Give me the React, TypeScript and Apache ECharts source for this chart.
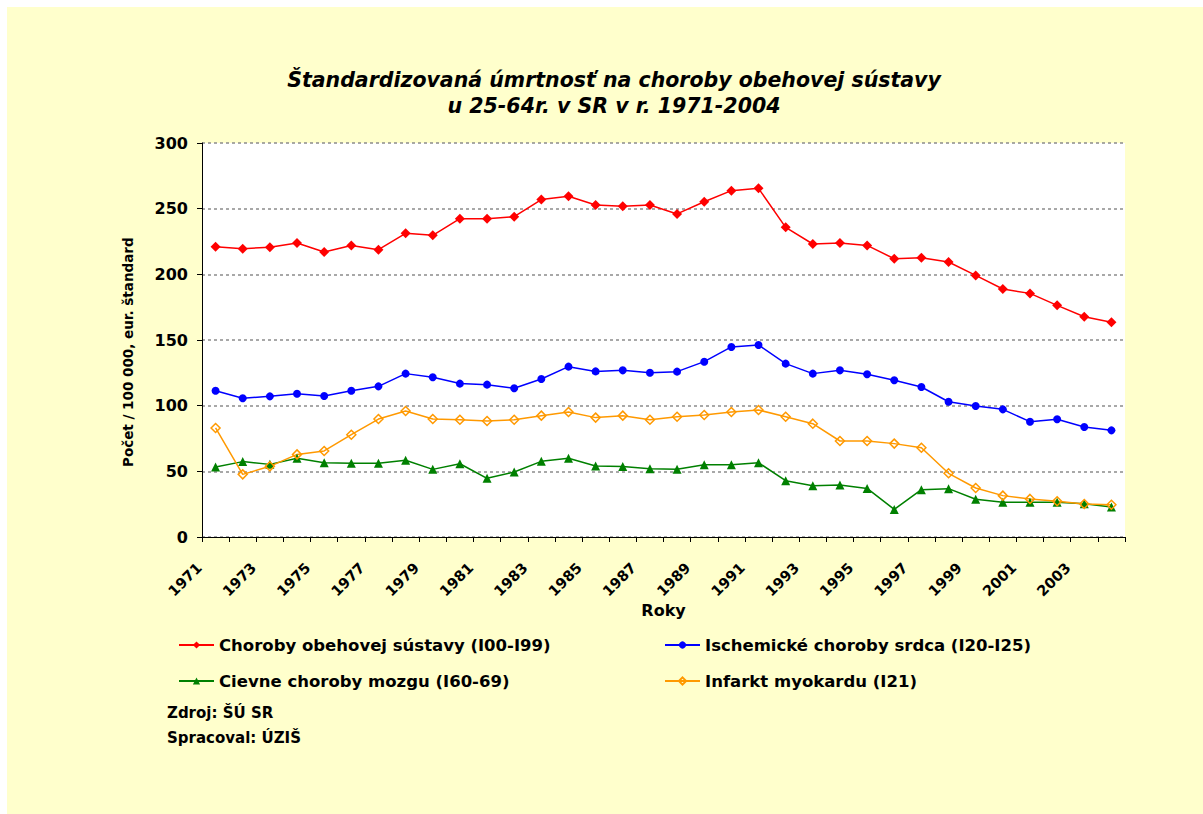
import React, { useEffect, useRef } from "react";
import * as echarts from "echarts";

const years = [
  "1971", "1972", "1973", "1974", "1975", "1976", "1977", "1978", "1979", "1980",
  "1981", "1982", "1983", "1984", "1985", "1986", "1987", "1988", "1989", "1990",
  "1991", "1992", "1993", "1994", "1995", "1996", "1997", "1998", "1999", "2000",
  "2001", "2002", "2003", "2004",
];

const obehova = [
  221, 219.5, 220.6, 223.9, 217, 222, 218.8, 231.2, 229.7, 242.4, 242.4, 243.9,
  256.9, 259.4, 252.8, 251.8, 252.8, 246, 255.3, 263.7, 265.5, 235.8, 223.1,
  223.9, 222, 211.9, 212.7, 209.4, 199.2, 188.8, 185.5, 176.4, 167.7, 163.5,
];

const ischemicke = [
  111.4, 105.6, 107.1, 109.1, 107.4, 111.4, 114.7, 124.4, 121.6, 116.8, 116,
  113.2, 120.3, 129.7, 126.1, 126.9, 125.1, 125.9, 133.5, 144.7, 146.2, 132,
  124.4, 126.9, 123.9, 119.3, 114.2, 103, 99.7, 97.2, 87.8, 89.6, 83.8, 81.2,
];

const cievne = [
  53.3, 57.4, 55.3, 59.9, 56.6, 56.1, 56.1, 58.4, 51.5, 55.8, 44.7, 49.5, 57.6,
  59.9, 54.1, 53.6, 52, 51.5, 55, 55, 56.6, 42.9, 39.1, 39.6, 37, 21, 36, 36.8,
  28.7, 26.4, 26.4, 26.4, 25.4, 22.8,
];

const infarkt = [
  83, 47.7, 53.8, 62.9, 65.5, 77.9, 89.8, 95.9, 89.8, 89.3, 88.3, 89.3, 92.4,
  95.2, 90.9, 92.4, 89.3, 91.6, 92.9, 95.2, 96.7, 91.6, 86.3, 73.1, 73.1, 71.1,
  68, 48.5, 37.3, 31.5, 29, 27.2, 25.1, 24.6,
];

const seriesNames = [
  "Choroby obehovej sústavy (I00-I99)",
  "Ischemické choroby srdca (I20-I25)",
  "Cievne choroby mozgu (I60-69)",
  "Infarkt myokardu (I21)",
];

const titleText = "Štandardizovaná úmrtnosť na choroby obehovej sústavy\nu 25-64r. v SR v r. 1971-2004";
const yAxisName = "Počet / 100 000, eur. štandard";
const xAxisName = "Roky";
const sourceLines = ["Zdroj: ŠÚ SR", "Spracoval: ÚZIŠ"];

const FONT = "'DejaVu Sans', sans-serif";

export default function App() {
  const ref = useRef<HTMLDivElement>(null);

  useEffect(() => {
    if (!ref.current) return;
    const chart = echarts.init(ref.current, undefined, { renderer: "svg" });
    const legendText = {
      fontFamily: FONT,
      fontSize: 16.5,
      fontWeight: "bold" as const,
      color: "#000",
      lineHeight: 18,
    };
    chart.setOption({
      animation: false,
      backgroundColor: "#FFFFCC",
      title: {
        text: titleText,
        left: 607,
        top: 60,
        textAlign: "center",
        padding: 0,
        textStyle: {
          fontFamily: FONT,
          fontSize: 20.5,
          fontWeight: "bold",
          fontStyle: "italic",
          color: "#000",
          lineHeight: 26,
        },
      },
      grid: {
        left: 195,
        right: 78,
        top: 136,
        bottom: 277,
        show: true,
        backgroundColor: "#FFFFFF",
        borderWidth: 0,
      },
      legend: [
        {
          data: [seriesNames[0], seriesNames[2]],
          orient: "vertical",
          left: 171,
          top: 629,
          padding: 0,
          itemGap: 18,
          itemWidth: 35,
          itemHeight: 9,
          textStyle: legendText,
        },
        {
          data: [seriesNames[1], seriesNames[3]],
          orient: "vertical",
          left: 657,
          top: 629,
          padding: 0,
          itemGap: 18,
          itemWidth: 35,
          itemHeight: 9,
          textStyle: legendText,
        },
      ],
      xAxis: {
        type: "category",
        data: years,
        boundaryGap: true,
        name: xAxisName,
        nameLocation: "middle",
        nameGap: 58,
        nameTextStyle: {
          fontFamily: FONT,
          fontSize: 16,
          fontWeight: "bold",
          color: "#000",
        },
        axisLine: { show: true, lineStyle: { color: "#000", width: 1 } },
        axisTick: { show: true, interval: 0, length: 5, lineStyle: { color: "#000" } },
        axisLabel: {
          interval: 1,
          rotate: 45,
          margin: 12,
          padding: [0, 23, 0, 0],
          fontFamily: FONT,
          fontSize: 14.5,
          fontWeight: "bold",
          color: "#000",
        },
        splitLine: { show: false },
      },
      yAxis: {
        type: "value",
        min: 0,
        max: 300,
        interval: 50,
        axisLine: { show: true, lineStyle: { color: "#000", width: 1 } },
        axisTick: { show: true, length: 5, lineStyle: { color: "#000" } },
        axisLabel: {
          margin: 14,
          fontFamily: FONT,
          fontSize: 16,
          fontWeight: "bold",
          color: "#000",
        },
        splitLine: {
          show: true,
          lineStyle: { color: "#8c8c8c", type: [3, 3], width: 1.5 },
        },
      },
      graphic: [
        {
          type: "text",
          x: 121,
          y: 460,
          rotation: Math.PI / 2,
          style: {
            text: yAxisName,
            fontFamily: FONT,
            fontSize: 13.5,
            fontWeight: "bold",
            fill: "#000",
            align: "left",
            verticalAlign: "middle",
          },
        },
        {
          type: "text",
          x: 160,
          y: 706,
          style: {
            text: sourceLines[0],
            fontFamily: FONT,
            fontSize: 15,
            fontWeight: "bold",
            fill: "#000",
            align: "left",
            verticalAlign: "middle",
          },
        },
        {
          type: "text",
          x: 160,
          y: 731,
          style: {
            text: sourceLines[1],
            fontFamily: FONT,
            fontSize: 15,
            fontWeight: "bold",
            fill: "#000",
            align: "left",
            verticalAlign: "middle",
          },
        },
      ],
      series: [
        {
          name: seriesNames[0],
          type: "line",
          data: obehova,
          symbol: "diamond",
          symbolSize: 10,
          lineStyle: { color: "#FF0000", width: 1.5 },
          itemStyle: { color: "#FF0000" },
        },
        {
          name: seriesNames[1],
          type: "line",
          data: ischemicke,
          symbol: "circle",
          symbolSize: 8,
          lineStyle: { color: "#0000FF", width: 1.5 },
          itemStyle: { color: "#0000FF" },
        },
        {
          name: seriesNames[2],
          type: "line",
          data: cievne,
          symbol: "triangle",
          symbolSize: 9,
          lineStyle: { color: "#008000", width: 1.5 },
          itemStyle: { color: "#008000" },
        },
        {
          name: seriesNames[3],
          type: "line",
          data: infarkt,
          symbol: "diamond",
          symbolSize: 9,
          lineStyle: { color: "#FF9900", width: 1.5 },
          itemStyle: {
            color: "rgba(255,255,255,0)",
            borderColor: "#FF9900",
            borderWidth: 1.5,
          },
        },
      ],
    });
    return () => chart.dispose();
  }, []);

  return (
    <div
      ref={ref}
      style={{ position: "absolute", left: 7, top: 7, width: 1196, height: 807 }}
    />
  );
}
